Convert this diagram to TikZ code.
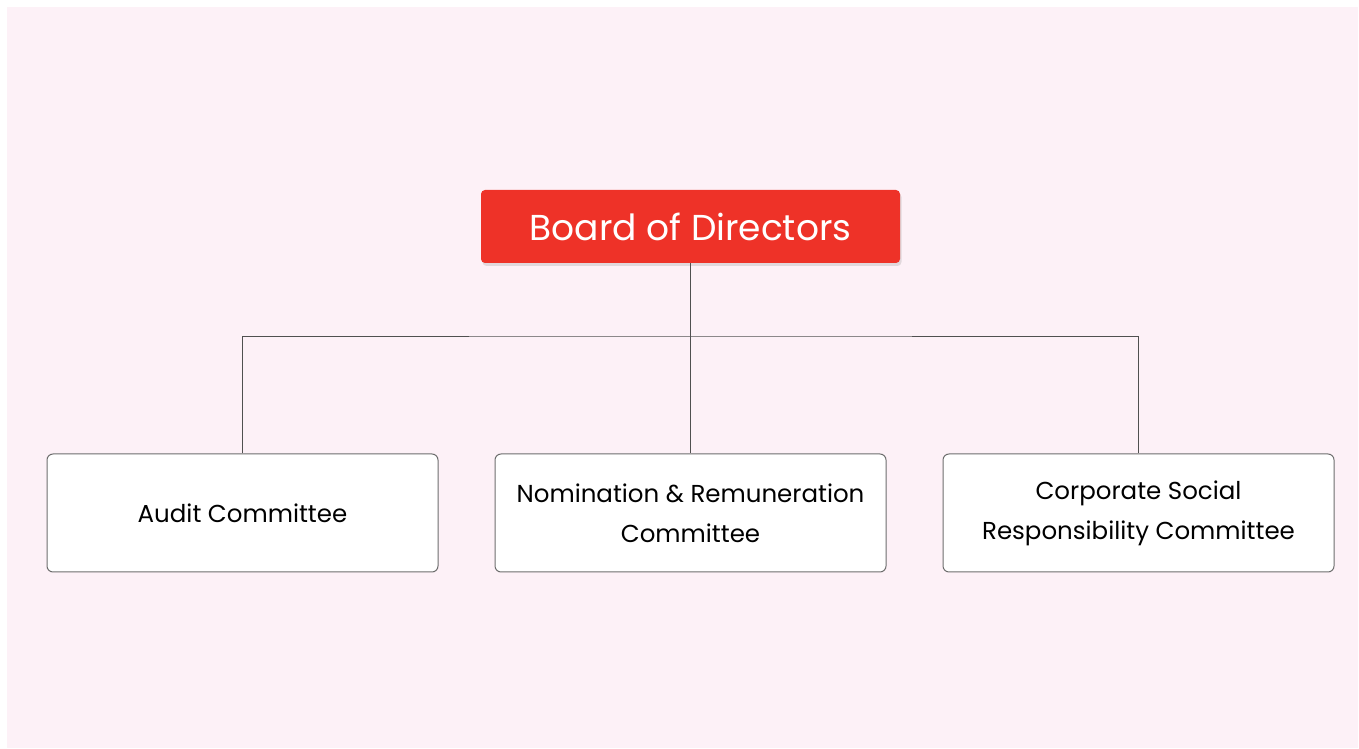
\documentclass[tikz,border=0pt]{standalone}
\usepackage{fontspec}
\setmainfont{Poppins}
\usetikzlibrary{positioning, shadows}
\definecolor{pagepink}{HTML}{FDF1F7}
\definecolor{boardred}{HTML}{EE3228}
\definecolor{edgegray}{HTML}{6E6E6E}
\definecolor{linkgray}{HTML}{505050}
\tikzset{
  boardbox/.style={rectangle, rounded corners=4pt, minimum width=419pt, minimum height=73pt,
    fill=boardred, text=white, font=\fontsize{36}{42}\selectfont, inner sep=0pt,
    drop shadow={opacity=0.22, shadow xshift=1.5pt, shadow yshift=-3pt}},
  committeebox/.style={rectangle, rounded corners=6pt, minimum width=391pt, minimum height=118pt,
    fill=white, draw=edgegray, line width=1pt, text=black, align=center,
    font=\fontsize{24.5}{40}\selectfont, inner sep=0pt},
  link/.style={draw=linkgray, line width=0.9pt}
}
\begin{document}
\begin{tikzpicture}[x=1pt, y=1pt]
  \useasboundingbox (0,0) rectangle (1359,749);
  \fill[pagepink] (7,1) rectangle (1358,742);
  \node[boardbox] (board) at (690.5,522.5) {Board of Directors};
  \node[committeebox] (audit) at (242.5,236) {Audit Committee};
  \node[committeebox] (nrc)   at (690.5,236) {Nomination \& Remuneration\\Committee};
  \node[committeebox] (csr)   at (1138.5,236) {Corporate Social\\Responsibility Committee};
  \coordinate (bus) at (690.5,413);
  \draw[link] (board.south) -- (bus);
  \draw[link] (audit.north) |- (bus) -| (csr.north);
  \draw[link] (bus) -- (nrc.north);
\end{tikzpicture}
\end{document}
